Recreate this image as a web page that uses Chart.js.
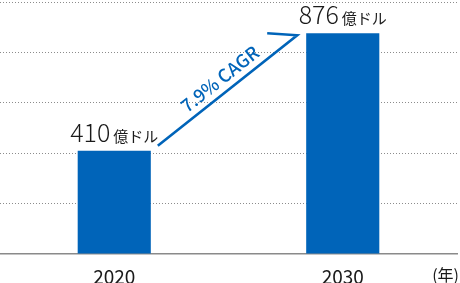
<!DOCTYPE html>
<html><head><meta charset="utf-8">
<script src="https://cdn.jsdelivr.net/npm/chart.js@4.4.1/dist/chart.umd.min.js"></script>
<style>html,body{margin:0;padding:0;background:#fff;}#wrap{width:460px;height:283px;}</style>
</head><body>
<div id="wrap"><canvas id="c" width="460" height="283"></canvas></div>
<script>
const categories = ['2020', '2030'];
const values = [410, 876];
const valueUnit = '億ドル';
const yMax = 1000;
const yStep = 200;
const cagrLabel = '7.9% CAGR';
const yearUnit = '(年)';

const BLUE = '#0064B9';
const FONT = '"Noto Sans CJK JP", "Noto Sans", sans-serif';

const annot = {
  id: 'annot',
  afterDatasetsDraw(chart) {
    const ctx = chart.ctx;
    const bars = chart.getDatasetMeta(0).data;
    ctx.save();
    // value labels
    bars.forEach((b, i) => {
      const num = String(values[i]);
      ctx.font = '300 25px ' + FONT;
      const wn = ctx.measureText(num).width;
      ctx.font = '400 15px ' + FONT;
      const wu = ctx.measureText(valueUnit).width;
      const gap = 3;
      const total = wn + gap + wu;
      const sx = b.x - total / 2;
      const by = b.y - 9;
      ctx.fillStyle = '#1a1a1a';
      ctx.textBaseline = 'alphabetic';
      ctx.textAlign = 'left';
      ctx.font = '300 25px ' + FONT;
      ctx.fillText(num, sx, by);
      ctx.font = '400 15px ' + FONT;
      ctx.fillText(valueUnit, sx + wn + gap, by);
    });
    // CAGR arrow
    const b0 = bars[0], b1 = bars[1];
    const s = {x: b0.x + b0.width / 2 + 7, y: b0.y - 5};
    const c = {x: b1.x - b1.width / 2 - 9, y: b1.y + 2};
    ctx.strokeStyle = BLUE;
    ctx.lineWidth = 2.6;
    ctx.lineJoin = 'miter';
    ctx.beginPath();
    ctx.moveTo(s.x, s.y);
    ctx.lineTo(c.x, c.y);
    ctx.lineTo(c.x - 30, c.y - 2);
    ctx.stroke();
    const ang = Math.atan2(c.y - s.y, c.x - s.x);
    ctx.translate((s.x + c.x) / 2, (s.y + c.y) / 2);
    ctx.rotate(ang);
    ctx.fillStyle = BLUE;
    ctx.font = '500 18px ' + FONT;
    ctx.textAlign = 'center';
    ctx.textBaseline = 'alphabetic';
    ctx.fillText(cagrLabel, 1, -7);
    ctx.restore();
    // year unit
    ctx.save();
    ctx.fillStyle = '#1a1a1a';
    ctx.font = '400 16px ' + FONT;
    ctx.textAlign = 'right';
    ctx.textBaseline = 'alphabetic';
    ctx.fillText(yearUnit, 459, 281);
    ctx.restore();
  }
};

new Chart(document.getElementById('c'), {
  type: 'bar',
  data: {
    labels: categories,
    datasets: [{ data: values, backgroundColor: BLUE, borderWidth: 0,
      categoryPercentage: 1, barPercentage: 0.32 }]
  },
  options: {
    responsive: false,
    animation: false,
    devicePixelRatio: 1,
    layout: { padding: { top: 2, right: 3, left: 0, bottom: 0 } },
    plugins: { legend: { display: false }, tooltip: { enabled: false } },
    scales: {
      x: {
        grid: { display: false },
        border: { display: true, color: '#8a8a8a', width: 1.5 },
        ticks: { color: '#1a1a1a', font: { family: FONT, size: 19 }, padding: 3 },
        afterFit(scale) { scale.height = 29; }
      },
      y: {
        min: 0, max: yMax,
        ticks: { display: false, stepSize: yStep },
        border: { display: false, dash: [1, 2] },
        grid: {
          drawTicks: false,
          color: (ctx) => ctx.tick && ctx.tick.value === 0 ? 'rgba(0,0,0,0)' : '#8c8c8c',
          lineWidth: 1
        },
        afterFit(scale) { scale.width = 0; }
      }
    }
  },
  plugins: [annot]
});
</script>
</body></html>
